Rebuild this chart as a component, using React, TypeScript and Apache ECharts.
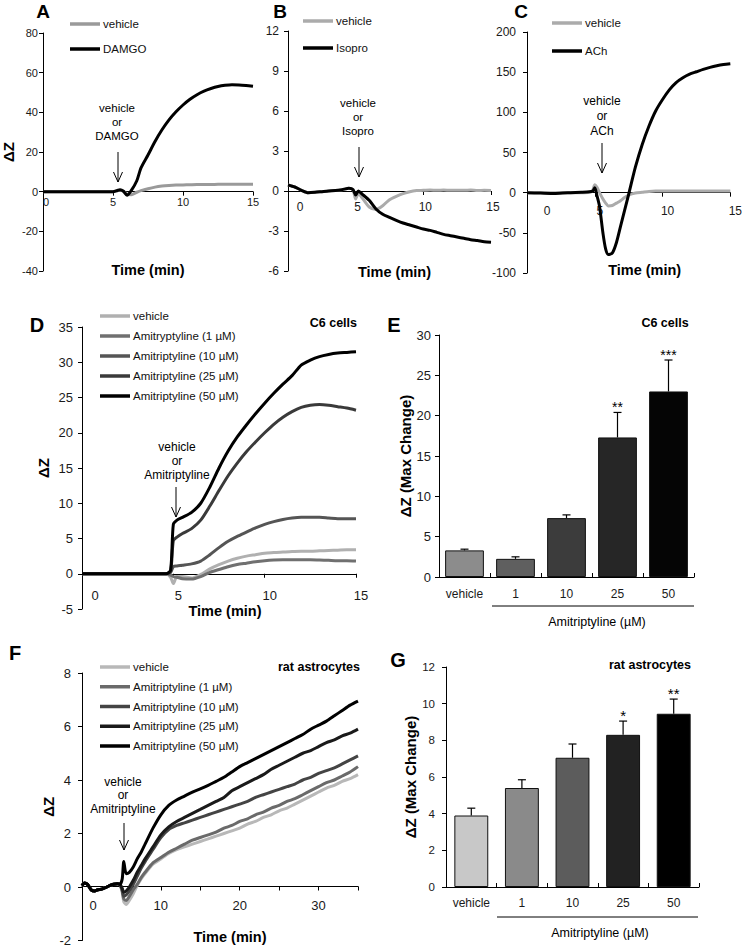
import React, { useEffect, useRef } from "react";
import * as echarts from "echarts";

const FONT = "Liberation Sans, Arial, Helvetica, sans-serif";

// ---------- Panel A ----------
const aTime = [0, 1, 2, 3, 4, 5, 5.3, 5.5, 5.75, 6.0, 6.3, 6.7, 7.0, 7.5, 8.0, 8.5, 9.0, 9.5, 10, 10.5, 11, 11.5, 12, 12.5, 13, 13.5, 14, 14.5, 15];
const aVehicle = [0, 0, 0, 0, 0, 0, 0.4, 0.7, 0.2, -1.2, -1.5, -0.3, 0.5, 1.5, 2.3, 2.8, 3.1, 3.3, 3.4, 3.5, 3.6, 3.6, 3.6, 3.7, 3.7, 3.7, 3.7, 3.7, 3.7];
const aDamgo = [0, 0, 0, 0, 0, 0, 0.6, 1.0, 0.2, -1.8, 0.5, 5.5, 12, 18.5, 25.3, 31.2, 36.2, 40.3, 43.7, 46.6, 48.9, 50.7, 52.0, 53.0, 53.6, 53.9, 53.8, 53.5, 53.1];

// ---------- Panel B ----------
const bTime = [0, 0.5, 1, 1.5, 2, 2.5, 3, 3.5, 4, 4.5, 4.8, 5.0, 5.2, 5.5, 6.0, 6.5, 7, 7.5, 8, 8.5, 9, 9.5, 10, 10.5, 11, 11.5, 12, 12.5, 13, 13.5, 14, 14.5, 15];
const bVehicle = [0.45, 0.3, 0.05, -0.13, -0.1, -0.05, 0, 0.03, 0.1, 0.2, 0.1, -0.6, -0.2, -0.55, -1.2, -1.38, -1.1, -0.65, -0.4, -0.2, -0.05, 0.03, 0.05, 0.08, 0.05, 0.07, 0.05, 0.06, 0.05, 0.07, 0.04, 0.05, 0.03];
const bIsopro = [0.45, 0.3, 0.05, -0.13, -0.1, -0.05, 0, 0.03, 0.1, 0.2, 0.1, -0.3, 0.0, -0.25, -0.7, -1.35, -1.75, -1.98, -2.2, -2.4, -2.55, -2.7, -2.85, -2.95, -3.1, -3.25, -3.35, -3.45, -3.55, -3.65, -3.72, -3.8, -3.85];

// ---------- Panel C ----------
const cTime = [0, 1, 2, 3, 4, 4.6, 4.85, 5.0, 5.15, 5.35, 5.6, 5.8, 6.0, 6.3, 6.6, 6.9, 7.2, 7.5, 8.0, 8.5, 9.0, 9.5, 10, 10.5, 11, 11.5, 12, 12.5, 13, 13.5, 14, 14.5, 15];
const cVehicle = [0, 0, 0, 0, 0, 0.5, 3, 10, 7, 0, -8, -13, -16.5, -16, -13, -10, -6, -3, -0.5, 0.5, 1.5, 2, 2, 2, 2, 2, 2, 2, 2, 2, 2, 2, 2];
const cACh = [0, -0.5, -1, 0, 0.5, 1, 2, 6, -3, -17, -50, -70, -77, -75, -62, -42, -22, -2, 32, 60, 83, 102, 116, 128, 137, 143, 147.5, 150.5, 153.5, 156, 158, 159.5, 160.5];

// ---------- Panel D ----------
const dTime = [0, 1, 2, 3, 4, 4.6, 4.85, 5.0, 5.2, 5.5, 6.0, 6.5, 7.0, 7.5, 8.0, 8.5, 9.0, 9.5, 10, 10.5, 11, 11.5, 12, 12.5, 13, 13.5, 14, 14.5, 15];
const dVehicle = [0, 0, 0, 0, 0, 0, -0.5, -1.4, -0.4, -0.4, -0.6, -0.1, 0.7, 1.3, 1.8, 2.2, 2.5, 2.7, 2.9, 3.0, 3.1, 3.15, 3.2, 3.2, 3.25, 3.3, 3.35, 3.4, 3.4];
const d1uM = [0, 0, 0, 0, 0, 0, -0.2, -0.4, -0.5, -0.7, -0.75, -0.4, 0.2, 0.6, 1.0, 1.3, 1.5, 1.7, 1.85, 1.95, 2.0, 2.0, 2.0, 2.0, 1.95, 1.9, 1.85, 1.85, 1.8];
const d10uM = [0, 0, 0, 0, 0, 0, 0.2, 1.0, 1.1, 1.2, 1.4, 1.8, 2.7, 3.7, 4.6, 5.3, 5.9, 6.5, 7.0, 7.4, 7.7, 7.9, 8.0, 8.0, 8.0, 7.9, 7.8, 7.8, 7.8];
const d25uM = [0, 0, 0, 0, 0, 0, 0.3, 4.7, 5.2, 5.7, 6.4, 7.6, 9.6, 11.8, 13.9, 15.7, 17.3, 18.7, 20.0, 21.2, 22.2, 23.0, 23.6, 23.9, 24.0, 23.9, 23.7, 23.5, 23.2];
const d50uM = [0, 0, 0, 0, 0, 0, 0.5, 7.0, 7.6, 8.0, 8.7, 10.0, 12.3, 15.0, 17.4, 19.4, 21.1, 22.7, 24.2, 25.6, 26.9, 28.1, 29.6, 30.3, 30.8, 31.1, 31.3, 31.4, 31.5];

// ---------- Panel E ----------
const barCategories = ["vehicle", "1", "10", "25", "50"];
const eMeans = [3.3, 2.25, 7.3, 17.3, 23.0];
const eSem = [0.15, 0.25, 0.4, 3.1, 3.9];
const eStars = ["", "", "", "**", "***"];

// ---------- Panel F ----------
const fTime = [0, 0.3, 0.7, 1.2, 1.6, 2, 2.5, 3, 3.5, 4, 4.5, 4.8, 5.1, 5.3, 5.6, 6, 6.5, 7, 7.5, 8, 9, 10, 11, 12, 13, 14, 15, 16, 17, 18, 19, 20, 21, 22, 23, 24, 25, 26, 27, 28, 29, 30, 31, 32, 33, 34, 35];
const fVehicle = [0.05, 0.15, 0.1, -0.12, -0.15, -0.1, -0.08, -0.02, 0.05, 0.1, 0.12, 0.1, -0.2, -0.55, -0.65, -0.5, -0.25, 0.05, 0.3, 0.5, 0.85, 1.05, 1.25, 1.4, 1.5, 1.6, 1.7, 1.8, 1.9, 2.0, 2.1, 2.2, 2.35, 2.45, 2.6, 2.7, 2.85, 2.95, 3.1, 3.25, 3.4, 3.55, 3.7, 3.8, 3.95, 4.05, 4.2];
const f1uM = [0.05, 0.15, 0.1, -0.12, -0.15, -0.1, -0.08, -0.02, 0.05, 0.1, 0.12, 0.1, -0.15, -0.45, -0.5, -0.35, -0.1, 0.1, 0.35, 0.55, 0.9, 1.1, 1.3, 1.45, 1.6, 1.75, 1.85, 1.95, 2.05, 2.2, 2.3, 2.45, 2.55, 2.7, 2.8, 2.95, 3.05, 3.2, 3.3, 3.45, 3.6, 3.75, 3.9, 4.0, 4.15, 4.3, 4.5];
const f10uM = [0.05, 0.15, 0.1, -0.12, -0.15, -0.1, -0.08, -0.02, 0.05, 0.1, 0.12, 0.1, -0.1, -0.35, -0.3, -0.15, 0.1, 0.4, 0.7, 0.95, 1.4, 1.85, 2.15, 2.3, 2.4, 2.5, 2.6, 2.7, 2.8, 2.9, 3.0, 3.1, 3.2, 3.35, 3.45, 3.55, 3.65, 3.75, 3.85, 4.0, 4.1, 4.25, 4.35, 4.45, 4.6, 4.75, 4.9];
const f25uM = [0.05, 0.15, 0.1, -0.12, -0.15, -0.1, -0.08, -0.02, 0.05, 0.1, 0.12, 0.1, -0.05, -0.2, -0.15, 0.0, 0.25, 0.55, 0.8, 1.05, 1.5, 1.95, 2.25, 2.45, 2.6, 2.75, 2.9, 3.05, 3.2, 3.35, 3.6, 3.75, 3.9, 4.05, 4.2, 4.4, 4.55, 4.7, 4.85, 5.0, 5.1, 5.25, 5.4, 5.5, 5.65, 5.75, 5.9];
const f50uM = [0.05, 0.15, 0.1, -0.12, -0.15, -0.1, -0.08, -0.02, 0.05, 0.1, 0.12, 0.1, 0.3, 0.95, 0.5, 0.55, 0.75, 1.05, 1.3, 1.6, 2.2, 2.7, 3.05, 3.25, 3.4, 3.55, 3.67, 3.8, 3.95, 4.1, 4.3, 4.5, 4.65, 4.8, 4.95, 5.1, 5.25, 5.4, 5.55, 5.7, 5.9, 6.05, 6.2, 6.4, 6.6, 6.8, 6.95];

// ---------- Panel G ----------
const gMeans = [3.9, 5.4, 7.05, 8.3, 9.45];
const gSem = [0.4, 0.45, 0.75, 0.75, 0.8];
const gStars = ["", "", "", "*", "**"];

const eColors = ["#8c8c8c", "#5f5f5f", "#3c3c3c", "#262626", "#050505"];
const gColors = ["#c8c8c8", "#8a8a8a", "#5c5c5c", "#222222", "#000000"];

// grid boxes: [left, top, width, height]
const grids = [
  [43, 33, 210, 238],
  [288, 31, 203, 240],
  [527, 32, 209, 241],
  [82, 327, 274, 282],
  [439, 335, 255, 242],
  [82, 673, 276, 270],
  [446, 667, 253, 220],
];
// y ranges of each panel: [min, max, interval]
const yRanges = [
  [-40, 80, 20],
  [-6, 12, 3],
  [-100, 200, 50],
  [-5, 35, 5],
  [0, 30, 5],
  [-2, 8, 2],
  [0, 12, 2],
];

const zip = (t: number[], v: number[]) => t.map((x, i) => [x, v[i]]);

function lineSeries(name: string, idx: number, t: number[], v: number[], color: string) {
  return {
    type: "line",
    name,
    xAxisIndex: idx,
    yAxisIndex: idx,
    data: zip(t, v),
    showSymbol: false,
    symbol: "none",
    smooth: 0.25,
    color,
    itemStyle: { color },
    lineStyle: { color, width: 3 },
    z: 3,
  };
}

const axisLineStyle = { show: true, lineStyle: { color: "#000", width: 1 } };

// offset that puts a bottom x axis on the y = 0 line of its grid
function zeroOffset(idx: number) {
  const [mn, mx] = yRanges[idx];
  const h = grids[idx][3];
  return -h * (0 - mn) / (mx - mn);
}

function timeAxis(idx: number, max: number, interval: number, labelMargin: number, zeroShift: number, shift: number, nameGap: number, nameShift: number, fontSize: number, every?: number) {
  return {
    type: "value",
    gridIndex: idx,
    position: "bottom",
    offset: zeroOffset(idx),
    min: 0,
    max,
    interval,
    axisLine: { ...axisLineStyle, onZero: false },
    axisTick: { show: true, length: 4, lineStyle: { color: "#000" } },
    splitLine: { show: false },
    axisLabel: {
      margin: labelMargin,
      fontFamily: FONT,
      fontSize,
      color: "#1a1a1a",
      formatter: (v: number) => {
        if (every && v % every !== 0) return "";
        return v === 0 ? "{z|0}" : "{n|" + v + "}";
      },
      rich: {
        z: { padding: [0, 0, 0, zeroShift * 2], fontFamily: FONT, fontSize, color: "#1a1a1a" },
        n: { padding: [0, 0, 0, shift * 2], fontFamily: FONT, fontSize, color: "#1a1a1a" },
      },
    },
    name: "Time (min)",
    nameLocation: "middle",
    nameGap,
    nameTextStyle: { fontFamily: FONT, fontWeight: "bold", fontSize: 14.5, color: "#000", padding: [0, 0, 0, nameShift * 2] },
  };
}

function valAxis(idx: number, margin: number, fontSize: number, name?: string, nameGap?: number) {
  const [min, max, interval] = yRanges[idx];
  return {
    type: "value",
    gridIndex: idx,
    min,
    max,
    interval,
    axisLine: { ...axisLineStyle, onZero: false },
    axisTick: { show: true, length: 4, lineStyle: { color: "#000" } },
    splitLine: { show: false },
    axisLabel: { margin, fontFamily: FONT, fontSize, color: "#1a1a1a" },
    name: name || "",
    nameLocation: "middle",
    nameRotate: 90,
    nameGap: nameGap || 0,
    nameTextStyle: { fontFamily: FONT, fontWeight: "bold", fontSize: 15, color: "#000" },
  };
}

function catAxis(idx: number, margin: number) {
  return {
    type: "category",
    gridIndex: idx,
    data: barCategories,
    axisLine: { ...axisLineStyle, onZero: false },
    axisTick: { show: true, inside: true, length: 4, alignWithLabel: false, lineStyle: { color: "#000" } },
    axisLabel: { margin, fontFamily: FONT, fontSize: 12, color: "#1a1a1a" },
  };
}

function barSeries(idx: number, means: number[], colors: string[], width: string) {
  return {
    type: "bar",
    xAxisIndex: idx,
    yAxisIndex: idx,
    barWidth: width,
    data: means.map((m, i) => ({ value: m, itemStyle: { color: colors[i], borderColor: "#111", borderWidth: 1 } })),
    z: 2,
  };
}

function errSeries(idx: number, means: number[], sem: number[], stars: string[], starSize: number) {
  return {
    type: "custom",
    xAxisIndex: idx,
    yAxisIndex: idx,
    data: means.map((m, i) => [i, m, sem[i]]),
    encode: { x: 0, y: [1] },
    z: 5,
    renderItem: (params: any, api: any) => {
      const i = api.value(0);
      const m = api.value(1);
      const s = api.value(2);
      const base = api.coord([i, m]);
      const top = api.coord([i, m + s]);
      return {
        type: "group",
        children: [
          { type: "line", shape: { x1: base[0], y1: base[1], x2: top[0], y2: top[1] }, style: { stroke: "#000", lineWidth: 1.2 } },
          { type: "line", shape: { x1: top[0] - 4, y1: top[1], x2: top[0] + 4, y2: top[1] }, style: { stroke: "#000", lineWidth: 1.2 } },
          {
            type: "text",
            style: { text: stars[i], x: top[0], y: top[1] + 2, align: "center", verticalAlign: "bottom", fontFamily: FONT, fontSize: starSize, fill: "#000" },
          },
        ],
      };
    },
  };
}

function arrow(x: number, y1: number, y2: number) {
  return [
    { type: "line", shape: { x1: x, y1, x2: x, y2 }, style: { stroke: "#000", lineWidth: 1 } },
    { type: "polyline", shape: { points: [[x - 4.5, y2 - 10], [x, y2], [x + 4.5, y2 - 10]] }, style: { stroke: "#000", lineWidth: 1, fill: null } },
  ];
}

function txt(text: string, x: number, y: number, size: number, bold = false, align = "center", lineHeight?: number) {
  return {
    type: "text",
    x,
    y,
    style: {
      text,
      x: 0,
      y: 0,
      align,
      verticalAlign: "middle",
      fontFamily: FONT,
      fontSize: size,
      fontWeight: bold ? "bold" : "normal",
      fill: "#000",
      lineHeight: lineHeight || Math.round(size * 1.2),
    },
  };
}

function legendCfg(left: number, top: number, gap: number, names: string[]) {
  return {
    left,
    top,
    orient: "vertical",
    padding: 0,
    itemGap: gap,
    itemWidth: 30,
    itemHeight: 3.5,
    icon: "rect",
    selectedMode: false,
    data: names,
    formatter: (n: string) => n.split("|")[1],
    textStyle: { fontFamily: FONT, fontSize: 11.5, color: "#111", lineHeight: 14, padding: [0, 0, 0, -2] },
  };
}

export default function App() {
  const ref = useRef<HTMLDivElement>(null);
  useEffect(() => {
    if (!ref.current) return;
    const chart = echarts.init(ref.current, undefined, { renderer: "svg" });
    const option: any = {
      animation: false,
      backgroundColor: "#fff",
      grid: grids.map(([left, top, width, height]) => ({ left, top, width, height })),
      xAxis: [
        timeAxis(0, 15, 5, 5, 3, 0, 71, 0, 11),
        timeAxis(1, 15, 5, 10, 12, 2, 73, 5, 12),
        timeAxis(2, 15, 5, 12, 20, 5, 70, 16, 12),
        timeAxis(3, 15, 5, 15, 13, 5, 30, 6, 13),
        catAxis(4, 11),
        timeAxis(5, 35, 5, 12, 11, 0, 43, 10, 13, 10),
        catAxis(6, 10),
      ],
      yAxis: [
        valAxis(0, 5, 11, "ΔZ", 27),
        valAxis(1, 9, 12),
        valAxis(2, 11, 12),
        valAxis(3, 9, 13, "ΔZ", 31),
        valAxis(4, 8, 13, "ΔZ (Max Change)", 23),
        valAxis(5, 11, 13, "ΔZ", 23),
        valAxis(6, 11, 11.5, "ΔZ (Max Change)", 23),
      ],
      legend: [
        legendCfg(70, 17, 11, ["A|vehicle", "A|DAMGO"]),
        legendCfg(303, 14, 13, ["B|vehicle", "B|Isopro"]),
        legendCfg(552, 16, 14, ["C|vehicle", "C|ACh"]),
        legendCfg(100, 309, 6, ["D|vehicle", "D|Amitryptyline (1 µM)", "D|Amitriptyline (10 µM)", "D|Amitriptyline (25 µM)", "D|Amitriptyline (50 µM)"]),
        legendCfg(100, 660, 5.75, ["F|vehicle", "F|Amitriptyline (1 µM)", "F|Amitriptyline (10 µM)", "F|Amitriptyline (25 µM)", "F|Amitriptyline (50 µM)"]),
      ],
      series: [
        lineSeries("A|vehicle", 0, aTime, aVehicle, "#9a9a9a"),
        lineSeries("A|DAMGO", 0, aTime, aDamgo, "#000000"),
        lineSeries("B|vehicle", 1, bTime, bVehicle, "#ababab"),
        lineSeries("B|Isopro", 1, bTime, bIsopro, "#000000"),
        lineSeries("C|vehicle", 2, cTime, cVehicle, "#ababab"),
        lineSeries("C|ACh", 2, cTime, cACh, "#000000"),
        lineSeries("D|vehicle", 3, dTime, dVehicle, "#b0b0b0"),
        lineSeries("D|Amitryptyline (1 µM)", 3, dTime, d1uM, "#707070"),
        lineSeries("D|Amitriptyline (10 µM)", 3, dTime, d10uM, "#555555"),
        lineSeries("D|Amitriptyline (25 µM)", 3, dTime, d25uM, "#3a3a3a"),
        lineSeries("D|Amitriptyline (50 µM)", 3, dTime, d50uM, "#000000"),
        barSeries(4, eMeans, eColors, "76%"),
        errSeries(4, eMeans, eSem, eStars, 14),
        lineSeries("F|vehicle", 5, fTime, fVehicle, "#b8b8b8"),
        lineSeries("F|Amitriptyline (1 µM)", 5, fTime, f1uM, "#6a6a6a"),
        lineSeries("F|Amitriptyline (10 µM)", 5, fTime, f10uM, "#444444"),
        lineSeries("F|Amitriptyline (25 µM)", 5, fTime, f25uM, "#1a1a1a"),
        lineSeries("F|Amitriptyline (50 µM)", 5, fTime, f50uM, "#000000"),
        barSeries(6, gMeans, gColors, "67%"),
        errSeries(6, gMeans, gSem, gStars, 15),
      ],
      graphic: [
        txt("A", 43, 11, 19, true),
        txt("B", 280, 11, 19, true),
        txt("C", 521, 11, 19, true),
        txt("D", 37, 325, 20, true),
        txt("E", 394, 325, 20, true),
        txt("F", 15, 653, 20, true),
        txt("G", 398, 660, 20, true),
        txt("C6 cells", 357, 323, 12.5, true, "right"),
        txt("C6 cells", 665, 323, 12.5, true),
        txt("rat astrocytes", 360, 667, 12.5, true, "right"),
        txt("rat astrocytes", 650, 665, 12.5, true),
        txt("vehicle\nor\nDAMGO", 117, 122, 11.5, false, "center", 14),
        ...arrow(118, 152, 182),
        txt("vehicle\nor\nIsopro", 358, 117, 11.5, false, "center", 14),
        ...arrow(359, 147, 177),
        txt("vehicle\nor\nACh", 602, 116, 12, false, "center", 15),
        ...arrow(602, 143, 173),
        txt("vehicle\nor\nAmitriptyline", 177, 461, 12, false, "center", 14),
        ...arrow(176, 487, 517),
        txt("vehicle\nor\nAmitriptyline", 123, 795, 12, false, "center", 13.5),
        ...arrow(124, 823, 850),
        { type: "line", shape: { x1: 492, y1: 606, x2: 694, y2: 606 }, style: { stroke: "#000", lineWidth: 1 } },
        txt("Amitriptyline (µM)", 597, 622, 12.5),
        { type: "line", shape: { x1: 497, y1: 917, x2: 698, y2: 917 }, style: { stroke: "#000", lineWidth: 1 } },
        txt("Amitriptyline (µM)", 600, 933, 12.5),
      ],
    };
    chart.setOption(option);
    return () => chart.dispose();
  }, []);
  return (
    <div
      ref={ref}
      style={{ position: "absolute", left: 0, top: 0, width: 745, height: 947, background: "#fff" }}
    />
  );
}
